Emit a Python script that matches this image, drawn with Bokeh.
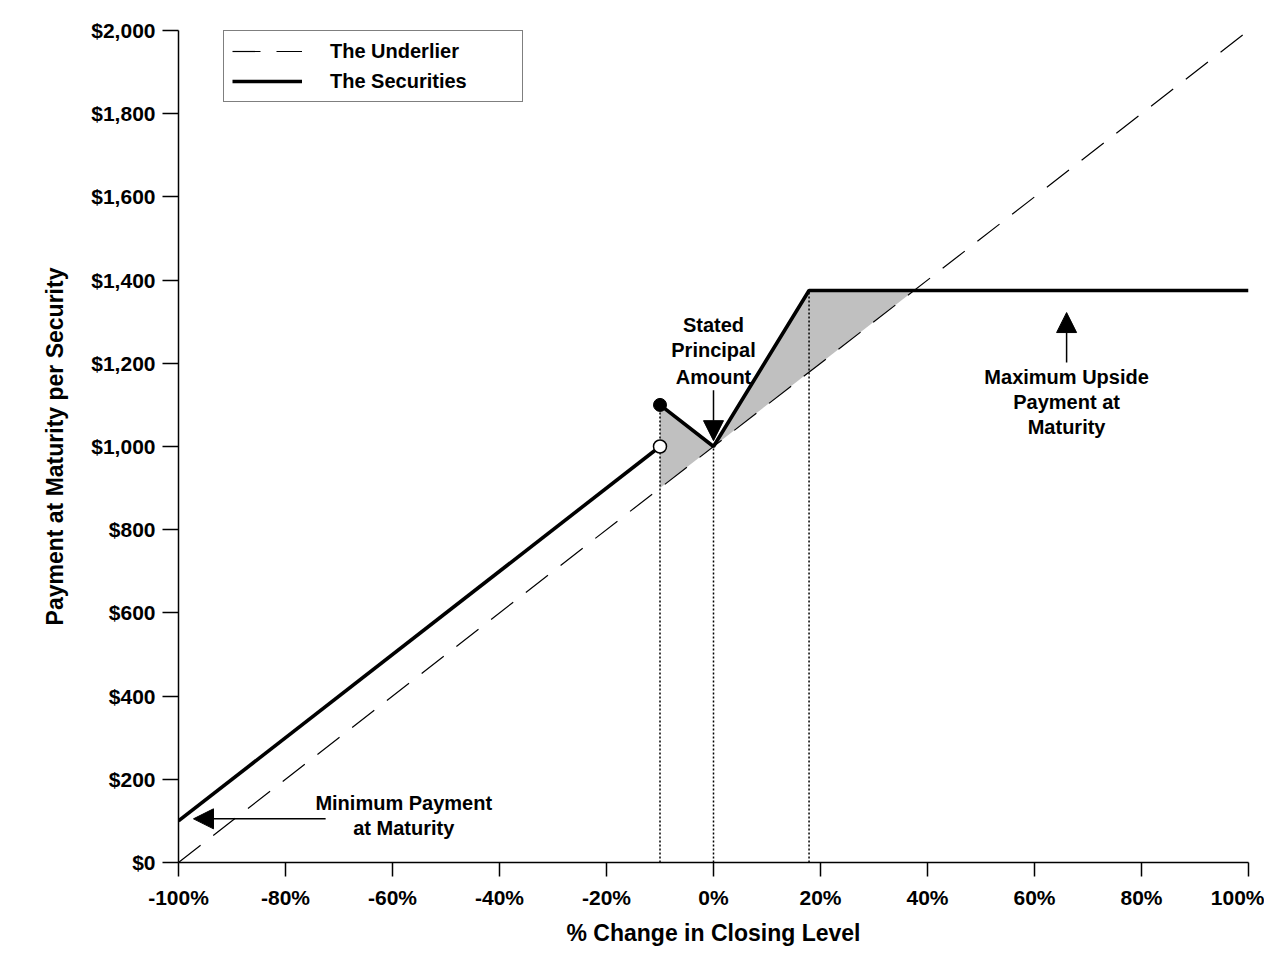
from bokeh.plotting import figure
from bokeh.models import (Range1d, FixedTicker, NumeralTickFormatter, PrintfTickFormatter,
                          Legend, LegendItem, Arrow, NormalHead, ColumnDataSource)
from bokeh.core.properties import value
from bokeh.embed import file_html
from bokeh.resources import INLINE

# ---- data ----
underlier_x = [-100, 100]
underlier_y = [0, 2000]

sec_low_x = [-100, -10]
sec_low_y = [100, 1000]
sec_high_x = [-10, 0, 17.86, 100]
sec_high_y = [1100, 1000, 1375, 1375]

shade1_x = [-10, 0, -10]
shade1_y = [1100, 1000, 900]
shade2_x = [0, 17.86, 37.5]
shade2_y = [1000, 1375, 1375]

drop_x = [-10, 0, 17.86]
drop_top = [1100, 1000, 1375]

filled_pt_x = [-10]
filled_pt_y = [1100]
open_pt_x = [-10]
open_pt_y = [1000]

x_ticks = [-100, -80, -60, -40, -20, 0, 20, 40, 60, 80, 100]
y_ticks = [0, 200, 400, 600, 800, 1000, 1200, 1400, 1600, 1800, 2000]

ann_text = ["Minimum Payment", "at Maturity",
            "Stated", "Principal", "Amount",
            "Maximum Upside", "Payment at", "Maturity"]
ann_x = [-57.9, -57.9, 0, 0, 0, 66, 66, 66]
ann_y = [144, 82, 1291, 1231, 1168, 1168, 1108, 1046]

# arrows: (x_start, y_start, x_end, y_end)
arrows = [(-72.5, 105, -97.2, 105),
          (0, 1135, 0, 1014),
          (66, 1202, 66, 1322)]

FONT = "Liberation Sans"

p = figure(width=1264, height=955, output_backend="svg", toolbar_location=None,
           x_range=Range1d(-100, 100), y_range=Range1d(0, 2000),
           min_border_left=178, min_border_right=16, min_border_top=30, min_border_bottom=93)
p.outline_line_color = None
p.grid.visible = False
p.background_fill_color = "white"

# shading
p.patch(shade1_x, shade1_y, fill_color="#c0c0c0", line_color=None)
p.patch(shade2_x, shade2_y, fill_color="#c0c0c0", line_color=None)

# dotted drop lines
p.segment(x0=drop_x, y0=[0] * len(drop_x), x1=drop_x, y1=drop_top,
          line_color="black", line_width=1.5, line_dash="2 2")

# underlier
r_und = p.line(underlier_x, underlier_y, line_color="black", line_width=1.2, line_dash="28 16")
# securities
r_sec = p.line(sec_low_x, sec_low_y, line_color="black", line_width=3.6)
p.line(sec_high_x, sec_high_y, line_color="black", line_width=3.6)

p.scatter(filled_pt_x, filled_pt_y, size=13, fill_color="black", line_color="black")
p.scatter(open_pt_x, open_pt_y, size=13, fill_color="white", line_color="black", line_width=1.5)

# annotations
src = ColumnDataSource(dict(x=ann_x, y=ann_y, t=ann_text))
p.text(x="x", y="y", text="t", source=src, text_align="center", text_baseline="middle",
       text_font=value(FONT), text_font_size="20px", text_font_style="bold", text_color="black")

for (xs, ys, xe, ye) in arrows:
    p.add_layout(Arrow(end=NormalHead(size=20, fill_color="black", line_color="black"),
                       x_start=xs, y_start=ys, x_end=xe, y_end=ye,
                       line_color="black", line_width=1.5))

# axes
p.xaxis.ticker = FixedTicker(ticks=x_ticks)
p.yaxis.ticker = FixedTicker(ticks=y_ticks)
p.xaxis.formatter = PrintfTickFormatter(format="%d%%")
p.yaxis.formatter = NumeralTickFormatter(format="$0,0")
for ax in (p.xaxis, p.yaxis):
    ax.axis_line_color = "black"
    ax.axis_line_width = 1.5
    ax.major_tick_line_color = "black"
    ax.major_tick_line_width = 1.5
    ax.major_tick_in = 0
    ax.minor_tick_line_color = None
    ax.major_label_text_font = FONT
    ax.major_label_text_font_size = "21px"
    ax.major_label_text_font_style = "bold"
    ax.major_label_text_color = "black"
    ax.axis_label_text_font = FONT
    ax.axis_label_text_font_size = "23px"
    ax.axis_label_text_font_style = "bold"
    ax.axis_label_text_color = "black"

p.xaxis.major_tick_out = 14
p.xaxis.major_label_standoff = 9
p.xaxis.axis_label = "% Change in Closing Level"
p.xaxis.axis_label_standoff = 8

p.yaxis.major_tick_out = 16
p.yaxis.major_label_standoff = 7
p.yaxis.axis_label = "Payment at Maturity per Security"
p.yaxis.axis_label_standoff = 20

legend = Legend(items=[LegendItem(label="The Underlier", renderers=[r_und]),
                       LegendItem(label="The Securities", renderers=[r_sec])],
                location=(45, 760), orientation="vertical",
                padding=8, spacing=6, glyph_height=24, glyph_width=70,
                label_standoff=28, label_width=184, margin=0,
                border_line_color="black", border_line_width=1.2,
                background_fill_color="white", background_fill_alpha=1,
                label_text_font=FONT, label_text_font_size="20px",
                label_text_font_style="bold", label_text_color="black")
p.add_layout(legend, "center")

open("out.html", "w").write(file_html(p, INLINE))
